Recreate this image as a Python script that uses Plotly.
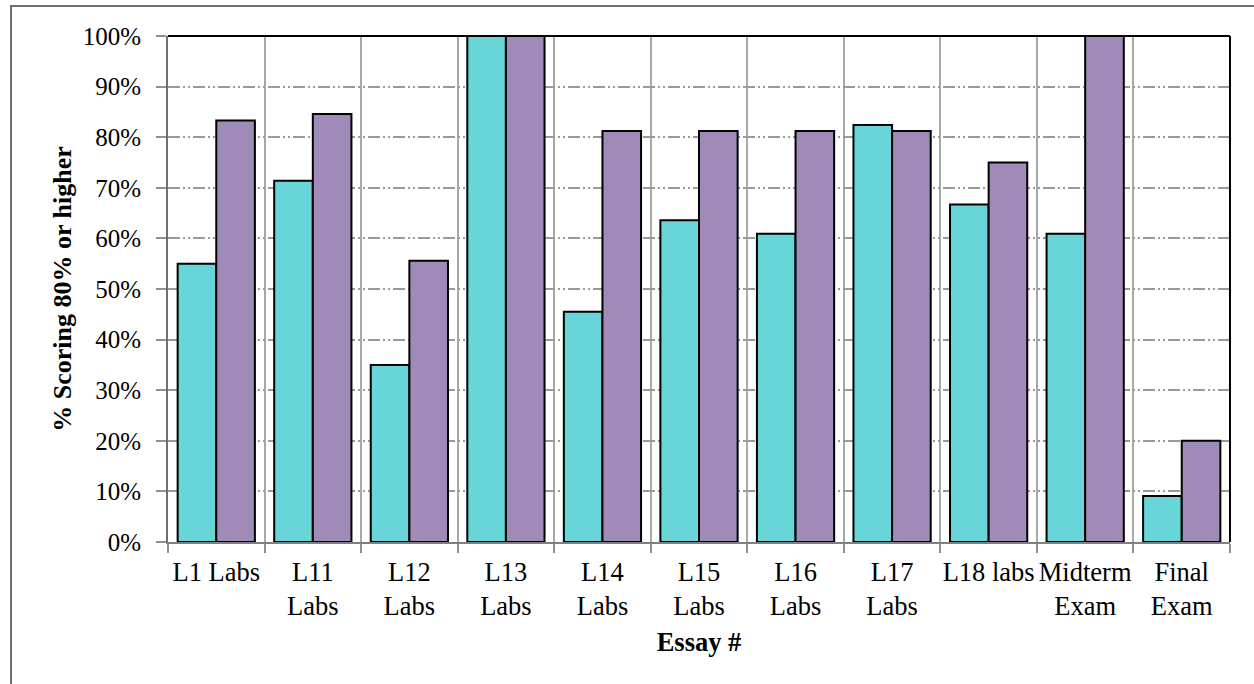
import plotly.graph_objects as go

categories = ["L1 Labs", "L11<br>Labs", "L12<br>Labs", "L13<br>Labs", "L14<br>Labs",
              "L15<br>Labs", "L16<br>Labs", "L17<br>Labs", "L18 labs",
              "Midterm<br>Exam", "Final<br>Exam"]
series_a = [0.55, 0.714, 0.35, 1.0, 0.455, 0.636, 0.609, 0.824, 0.667, 0.609, 0.091]
series_b = [0.833, 0.846, 0.556, 1.0, 0.8125, 0.8125, 0.8125, 0.8125, 0.75, 1.0, 0.20]
y_ticks = [0, 0.1, 0.2, 0.3, 0.4, 0.5, 0.6, 0.7, 0.8, 0.9, 1.0]

FONT = "Liberation Serif"
W, H = 1254, 684
ML, MR, MT, MB = 168, 24, 36, 142

fig = go.Figure()
fig.add_trace(go.Bar(x=categories, y=series_a, name="A",
                     marker=dict(color="#68D6D8", line=dict(color="black", width=2))))
fig.add_trace(go.Bar(x=categories, y=series_b, name="B",
                     marker=dict(color="#A08AB8", line=dict(color="black", width=2))))

pw = W - ML - MR
ph = H - MT - MB
def px2x(p):
    return (p - ML) / pw
def py2y(p):
    return (H - MB - p) / ph

fig.update_layout(
    width=W, height=H,
    margin=dict(l=ML, r=MR, t=MT, b=MB),
    paper_bgcolor="white", plot_bgcolor="white",
    barmode="group", bargap=0.2, bargroupgap=0,
    showlegend=False,
    font=dict(family=FONT, size=26, color="black"),
    xaxis=dict(
        tickson="boundaries", ticks="outside", ticklen=9, tickwidth=1.5, tickcolor="#909090",
        tickangle=0, ticklabelstandoff=5,
        showgrid=True, gridcolor="#A8A8A8", gridwidth=1.5,
        showline=True, linecolor="#808080", linewidth=2,
        tickfont=dict(family=FONT, size=26.5),
        title=dict(text="<b>Essay #</b>", font=dict(family=FONT, size=26.5), standoff=12),
    ),
    yaxis=dict(
        range=[0, 1], tickvals=y_ticks, tickformat=".0%",
        ticks="outside", ticklen=10, tickwidth=1.5, tickcolor="#909090",
        ticklabelstandoff=10,
        showgrid=True, gridcolor="#9A9A9A", gridwidth=1.5,
        griddash="12px,3px,2px,3px,2px,3px",
        showline=True, linecolor="#707070", linewidth=2,
        zeroline=False,
        tickfont=dict(family=FONT, size=25),
        title=dict(text="<b>% Scoring 80% or higher</b>", font=dict(family=FONT, size=26), standoff=4),
    ),
    shapes=[
        dict(type="line", xref="paper", yref="paper", x0=0, x1=1, y0=1, y1=1,
             line=dict(color="black", width=2), layer="above"),
        dict(type="line", xref="paper", yref="paper", x0=1, x1=1, y0=0, y1=1,
             line=dict(color="black", width=2), layer="above"),
        dict(type="rect", xref="paper", yref="paper",
             x0=px2x(11), x1=px2x(1300), y0=py2y(6), y1=py2y(720),
             line=dict(color="#404040", width=1.5), fillcolor="rgba(0,0,0,0)", layer="above"),
    ],
)

fig.write_html("out.html")
